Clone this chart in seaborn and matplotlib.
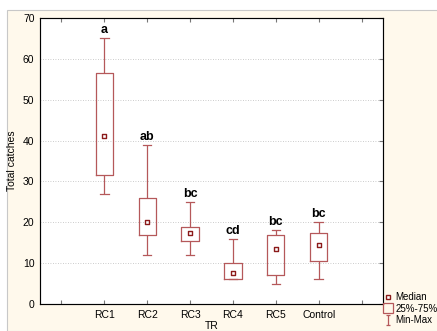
import numpy as np
import pandas as pd
import matplotlib
matplotlib.use("Agg")
import matplotlib.pyplot as plt
import seaborn as sns
from matplotlib.lines import Line2D
from matplotlib.patches import Rectangle
from matplotlib.path import Path

plt.rcParams['font.family'] = ['Liberation Sans', 'DejaVu Sans']

groups = ["RC1", "RC2", "RC3", "RC4", "RC5", "Control"]
mins = [27, 12, 12, 6, 5, 6]
q1 = [31.5, 17, 15.3, 6, 7, 10.5]
medians = [41, 20, 17.5, 7.5, 13.5, 14.5]
q3 = [56.5, 26, 18.8, 10, 16.8, 17.5]
maxs = [65, 39, 25, 16, 18, 20]
letters = ["a", "ab", "bc", "cd", "bc", "bc"]

# five summary values per group -> quartiles come out exactly
rows = []
for g, a, b, c, d, e in zip(groups, mins, q1, medians, q3, maxs):
    for v in (a, b, c, d, e):
        rows.append({"TR": g, "catches": v})
df = pd.DataFrame(rows)

red = "#b5585a"
dark = "#8b1a1a"

fig = plt.figure(figsize=(4.37, 3.31), dpi=100)
fig.patch.set_facecolor("white")
fig.add_artist(Rectangle((7 / 437, 0), 1, 1 - 10 / 331, transform=fig.transFigure,
                         facecolor="#fff9ec", edgecolor="#c8c8c8", lw=0.8, zorder=-10))
ax = fig.add_axes([40 / 437, 27 / 331, 343 / 437, 286 / 331])

sns.boxplot(data=df, x="TR", y="catches", order=groups, whis=np.inf, width=0.4,
            fill=False, color=red, linewidth=0.9, ax=ax,
            medianprops={"visible": False})
sns.scatterplot(x=groups, y=medians, marker="s", s=12, facecolor="white",
                edgecolor=dark, linewidth=1.0, ax=ax, zorder=5, legend=False)

for i, (lab, top) in enumerate(zip(letters, maxs)):
    ax.text(i, top + 0.5, lab, ha="center", va="bottom", fontsize=9,
            fontweight="bold", color="black")

ax.set_xlim(-1.5, 6.5)
ax.set_ylim(0, 70)
ax.set_xticks(range(-1, 7))
ax.set_xticklabels([""] + groups + [""], fontsize=7.5)
ax.set_yticks(range(0, 71, 10))
ax.tick_params(axis="y", labelsize=7.5, length=0, pad=4)
ax.tick_params(axis="x", direction="in", length=3, top=True, color="#777777", pad=4)
ax.yaxis.grid(True, linestyle=(0, (1, 2)), color="#bbbbbb", lw=0.6)
ax.set_axisbelow(True)
for s in ax.spines.values():
    s.set_color("#666666")
    s.set_linewidth(0.8)
ax.set_facecolor("white")

# right side inward ticks
axr = ax.twinx()
axr.set_ylim(0, 70)
axr.set_yticks(range(0, 71, 10))
axr.set_yticklabels([])
axr.tick_params(axis="y", direction="in", length=3, color="#777777")

ax.set_ylabel("Total catches", fontsize=7.5, labelpad=4)
ax.set_xlabel("TR", fontsize=7.5, labelpad=1)

ibeam = Path([(-0.5, 1), (0.5, 1), (0, 1), (0, -1), (-0.5, -1), (0.5, -1)],
             [Path.MOVETO, Path.LINETO, Path.MOVETO, Path.LINETO, Path.MOVETO, Path.LINETO])
handles = [
    Line2D([], [], ls="none", marker="s", ms=3.5, mfc="white", mec=dark, mew=1.0),
    Line2D([], [], ls="none", marker="s", ms=7.5, mfc="none", mec=red, mew=0.9),
    Line2D([], [], ls="none", marker=ibeam, ms=6.5, mec=red, mew=0.9),
]
fig.legend(handles, ["Median", "25%-75%", "Min-Max"], loc="lower left",
           bbox_to_anchor=(381 / 437, 0.012), frameon=False, fontsize=7,
           handlelength=1.0, handletextpad=0.25, labelspacing=0.15, borderaxespad=0,
           borderpad=0.2)

fig.savefig("out.png", dpi=100)
